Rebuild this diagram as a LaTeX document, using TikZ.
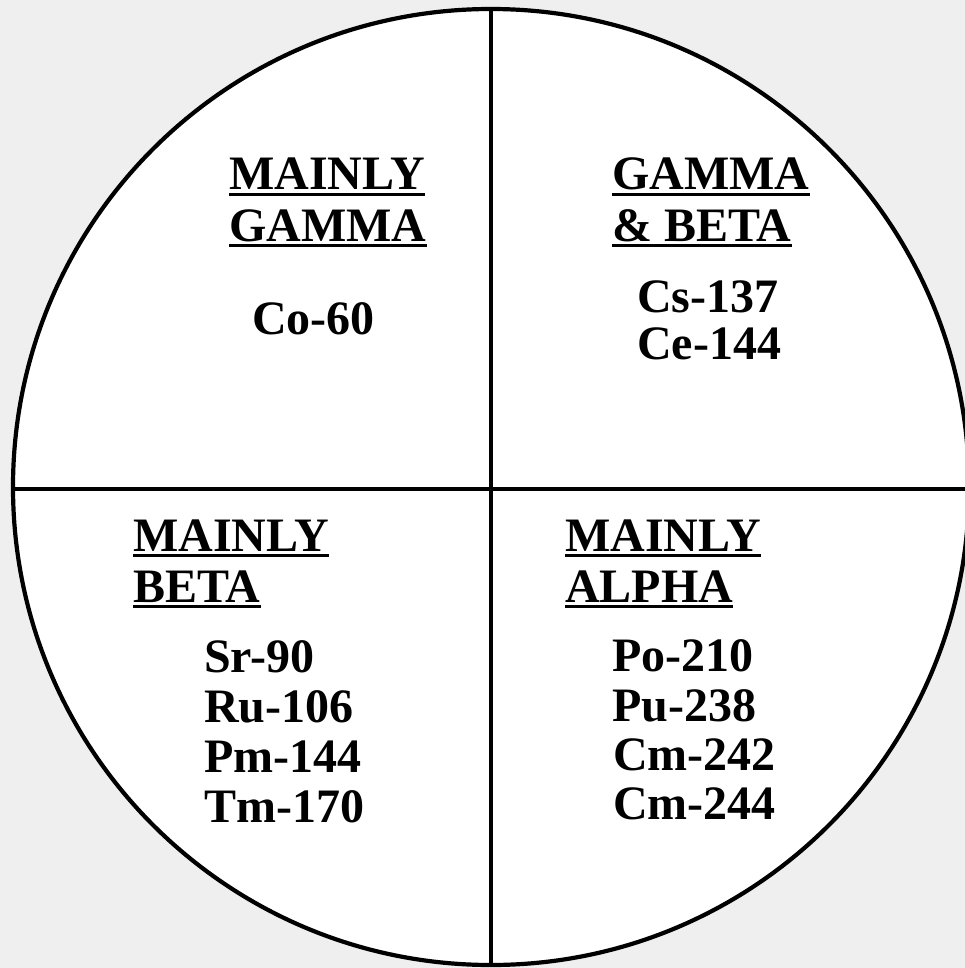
\documentclass[tikz,border=0pt]{standalone}
\usepackage{fontspec}
\setmainfont{Liberation Serif}
\definecolor{bggray}{HTML}{EFEFEF}
\tikzset{
  lbl/.style={anchor=base west, inner sep=0pt, font=\fontsize{48}{50}\selectfont\bfseries},
  ul/.style={line width=3pt},
  divider/.style={line width=4.2pt}
}
\newcommand{\uline}[1]{\draw[ul] ([yshift=-4.5pt]#1.base west) -- ([yshift=-4.5pt]#1.base east);}
\begin{document}
\begin{tikzpicture}[x=1pt,y=-1pt]
\useasboundingbox (0,0) rectangle (965,968);
\clip (0,0) rectangle (965,968);
\fill[bggray] (0,0) rectangle (965,968);
\coordinate (c) at (491,487);
\draw[divider, fill=white] (c) circle[radius=478];
\coordinate (top) at (491,9);
\coordinate (bot) at (491,965);
\coordinate (lft) at (13,489);
\coordinate (rgt) at (970,489);
\draw[divider] (top) -- (bot);
\draw[divider] (lft) -- (rgt);
% top left
\node[lbl] (tl1) at (229,190) {MAINLY};
\node[lbl] (tl2) at (229,241) {GAMMA};
\node[lbl] (co) at (252,334) {Co-60};
% top right
\node[lbl] (tr1) at (612,190) {GAMMA};
\node[lbl] (tr2) at (612,241) {\& BETA};
\node[lbl] (cs) at (637,312) {Cs-137};
\node[lbl] (ce) at (637,359) {Ce-144};
% bottom left
\node[lbl] (bl1) at (133,551) {MAINLY};
\node[lbl] (bl2) at (133,602) {BETA};
\node[lbl] (sr) at (204,672) {Sr-90};
\node[lbl] (ru) at (204,722) {Ru-106};
\node[lbl] (pm) at (204,772) {Pm-144};
\node[lbl] (tm) at (204,822) {Tm-170};
% bottom right
\node[lbl] (br1) at (565,551) {MAINLY};
\node[lbl] (br2) at (565,602) {ALPHA};
\node[lbl] (po) at (612,671) {Po-210};
\node[lbl] (pu) at (612,721) {Pu-238};
\node[lbl] (cm1) at (613,770) {Cm-242};
\node[lbl] (cm2) at (613,819) {Cm-244};
\uline{tl1}\uline{tl2}\uline{tr1}\uline{tr2}\uline{bl1}\uline{bl2}\uline{br1}\uline{br2}
\end{tikzpicture}
\end{document}
